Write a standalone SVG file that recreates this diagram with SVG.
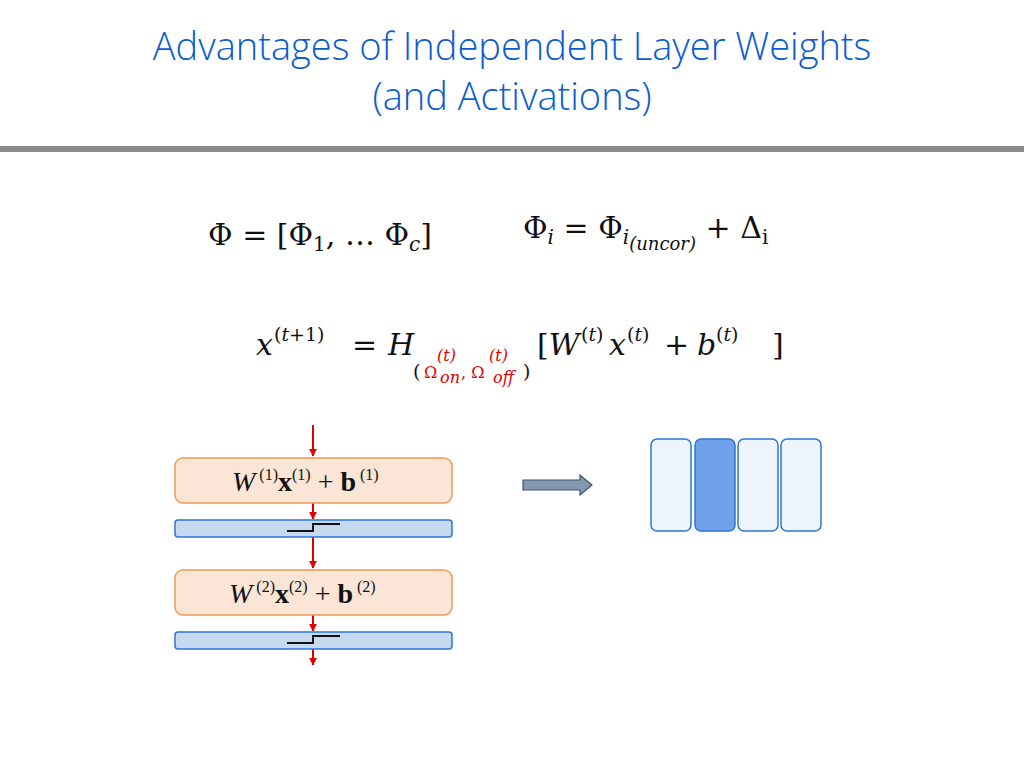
<svg xmlns="http://www.w3.org/2000/svg" width="1024" height="768" viewBox="0 0 1024 768">
<defs>
<style>
.t{font-family:"Open Sans","Liberation Sans",sans-serif;font-size:38px;font-weight:300;fill:#0b5cd0;text-anchor:middle}
.m{font-family:"DejaVu Serif","Liberation Serif",serif;font-size:30px;fill:#111}
.s{font-family:"DejaVu Serif","Liberation Serif",serif;font-size:19px;fill:#111}
.ss{font-family:"DejaVu Serif","Liberation Serif",serif;font-size:16px;fill:#e00000}
.mi{font-style:italic}
.lay{fill:#fbe5d6;stroke:#eb9a55;stroke-width:1.5}
.act{fill:#c5d9f1;stroke:#2e75d6;stroke-width:1.5}
.eq{font-family:"Liberation Serif",serif;font-size:28px;fill:#111}
.red{stroke:#e00000;stroke-width:2;fill:none;marker-end:url(#ah)}
.cell{fill:#eef4fc;stroke:#2e75d6;stroke-width:1.5}
</style>
<marker id="ah" viewBox="0 0 10 10" refX="9" refY="5" markerWidth="4" markerHeight="4" orient="auto"><path d="M0,0L10,5L0,10z" fill="#e00000"/></marker>
</defs>
<rect width="1024" height="768" fill="#fff"/>
<text class="t" x="512" y="60">Advantages of Independent Layer Weights</text>
<text class="t" x="512" y="110">(and Activations)</text>
<rect x="0" y="146" width="1024" height="6" fill="#8c8c8c"/>
<text class="m" x="208" y="245">Φ = [Φ<tspan font-size="20" dy="6">1</tspan><tspan dy="-6">, … Φ</tspan><tspan class="mi" font-size="20" dy="6">c</tspan><tspan dy="-6">]</tspan></text>
<text class="m" x="523" y="238">Φ<tspan class="mi" font-size="20" dy="6">i</tspan><tspan dy="-6"> = Φ</tspan><tspan class="mi" font-size="20" dy="6">i</tspan><tspan class="mi" font-size="18" dy="6">(uncor)</tspan><tspan dy="-12"> + Δ</tspan><tspan font-size="20" dy="6">i</tspan></text>
<text class="m mi" x="256" y="355">x</text>
<text class="s" x="274" y="341">(<tspan class="mi">t</tspan>+1)</text>
<text class="m" x="352" y="355">=</text>
<text class="m mi" x="388" y="355">H</text>
<text class="s" x="413" y="378" font-size="17">(</text>
<text class="ss" x="424" y="378">Ω</text>
<text class="ss mi" x="440" y="383">on</text>
<text class="ss mi" x="437" y="361">(t)</text>
<text class="ss" x="461" y="378">, Ω</text>
<text class="ss mi" x="493" y="383">off</text>
<text class="ss mi" x="489" y="361">(t)</text>
<text class="s" x="523" y="378" font-size="17">)</text>
<text class="m" x="537" y="355">[<tspan class="mi">W</tspan></text>
<text class="s" x="581" y="341">(<tspan class="mi">t</tspan>)</text>
<text class="m mi" x="609" y="355">x</text>
<text class="s" x="627" y="341">(<tspan class="mi">t</tspan>)</text>
<text class="m" x="664" y="355">+</text>
<text class="m mi" x="697" y="355">b</text>
<text class="s" x="716" y="341">(<tspan class="mi">t</tspan>)</text>
<text class="m" x="772" y="355">]</text>
<g id="connectors">
<line class="red" x1="313" y1="425" x2="313" y2="456"/>
<line class="red" x1="313" y1="503" x2="313" y2="519"/>
<line class="red" x1="313" y1="537" x2="313" y2="568"/>
<line class="red" x1="313" y1="615" x2="313" y2="631"/>
<line class="red" x1="313" y1="649" x2="313" y2="665"/>
</g>
<g id="layer1"><rect class="lay" x="175" y="458" width="277" height="45" rx="8"/>
<text class="eq" x="232" y="491"><tspan font-style="italic">W</tspan><tspan font-size="16" dy="-11"> (1)</tspan><tspan font-weight="bold" dy="11">x</tspan><tspan font-size="16" dy="-11">(1)</tspan><tspan dy="11">  +  </tspan><tspan font-weight="bold">b</tspan><tspan font-size="16" dy="-11"> (1)</tspan></text></g>
<g id="act1"><rect class="act" x="175" y="520" width="277" height="17" rx="3"/>
<path d="M287,531H313V524H340" stroke="#111" stroke-width="2" fill="none"/></g>
<g id="layer2"><rect class="lay" x="175" y="570" width="277" height="45" rx="8"/>
<text class="eq" x="229" y="603"><tspan font-style="italic">W</tspan><tspan font-size="16" dy="-11"> (2)</tspan><tspan font-weight="bold" dy="11">x</tspan><tspan font-size="16" dy="-11">(2)</tspan><tspan dy="11">  + </tspan><tspan font-weight="bold">b</tspan><tspan font-size="16" dy="-11"> (2)</tspan></text></g>
<g id="act2"><rect class="act" x="175" y="632" width="277" height="17" rx="3"/>
<path d="M287,643H313V636H340" stroke="#111" stroke-width="2" fill="none"/></g>
<g id="arrow"><path d="M523,480H580V475L592,485L580,495V490H523Z" fill="#8497b0" stroke="#44546a" stroke-width="1.2"/></g>
<g id="cells">
<rect class="cell" x="651" y="439" width="40" height="92" rx="6"/>
<rect x="695" y="439" width="40" height="92" rx="6" fill="#6fa2eb" stroke="#2e75d6" stroke-width="1.5"/>
<rect class="cell" x="738" y="439" width="40" height="92" rx="6"/>
<rect class="cell" x="781" y="439" width="40" height="92" rx="6"/>
</g>
</svg>
